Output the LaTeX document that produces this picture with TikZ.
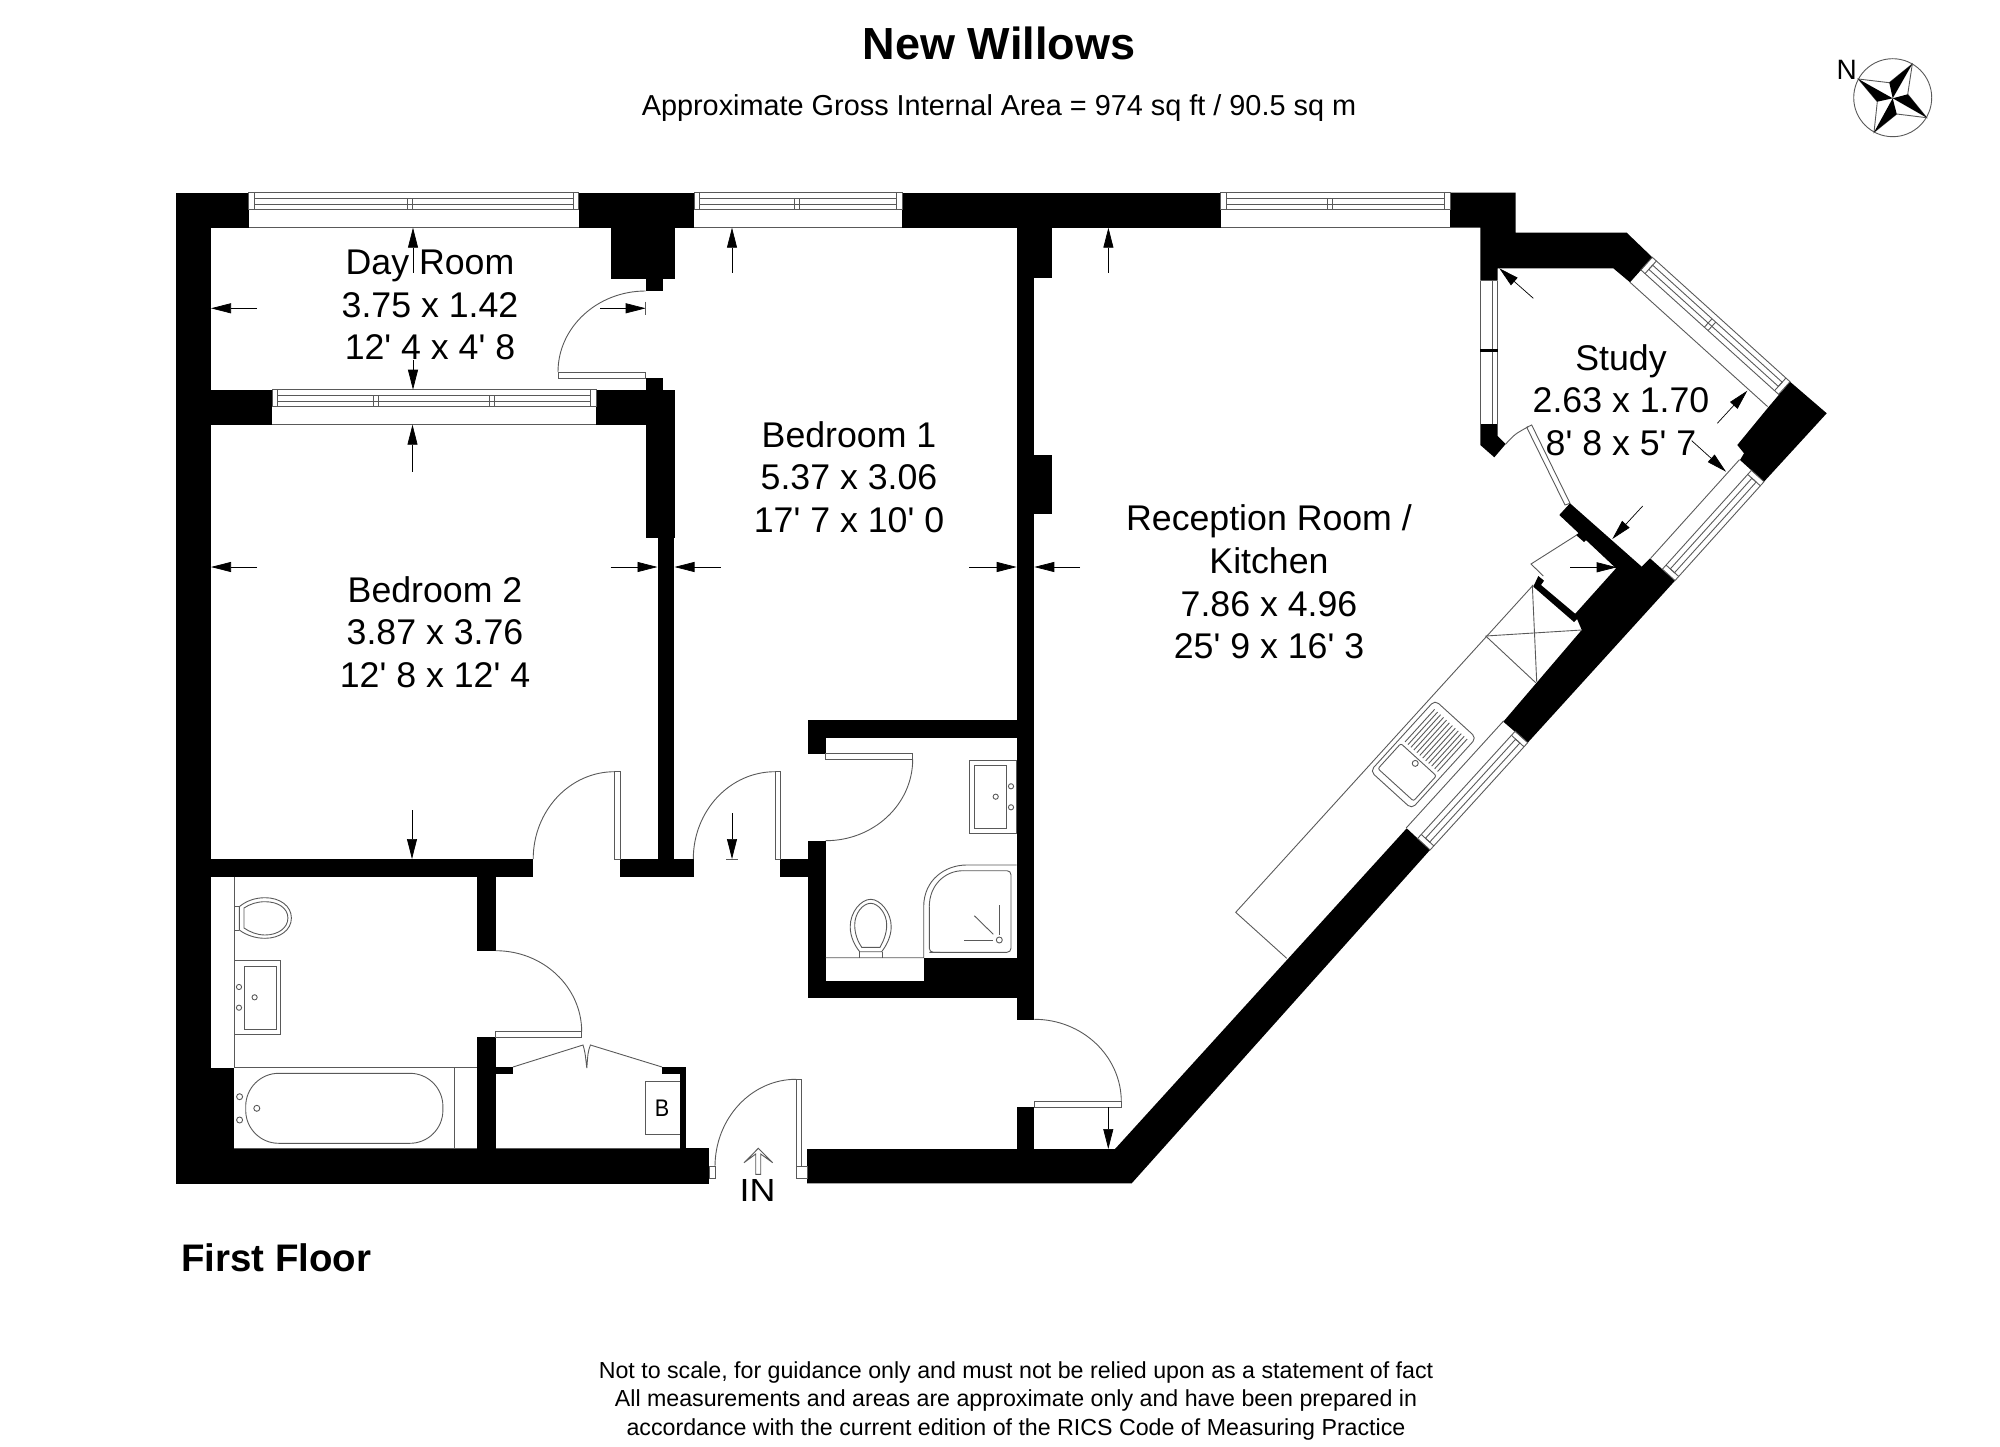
\documentclass[tikz,border=0pt]{standalone}
\usepackage{fontspec}
\setmainfont{Liberation Sans}
\usetikzlibrary{arrows.meta}

\newcommand{\ft}{\textquotesingle}
\tikzstyle{wall} = [fill=black]
\tikzstyle{fine} = [draw=black!65, line width=0.9pt]
\tikzstyle{dimline} = [draw=black, line width=0.7pt, -{Triangle[length=20pt,width=10pt]}]
\tikzstyle{roomlabel} = [align=center, inner sep=0pt, font=\fontsize{35.7}{42.7}\selectfont]

\newcommand{\winpane}[6]{
  \begin{scope}[shift={(#1,#2)},rotate=#3]
    \draw[fine] (0,0) rectangle (#4,17);
    \draw[fine] (5.5,5.6) rectangle (#4-5.5,11.3);
    \draw[fine] (5.5,0) -- (5.5,17) (#4-5.5,0) -- (#4-5.5,17);
    \draw[fine] (0,#5) -- (#4,#5);
    \foreach \m in {#6} {
      \draw[fine] (\m-2.5,5.6) -- (\m-2.5,17) (\m+2.5,5.6) -- (\m+2.5,17);
    }
  \end{scope}
}

\begin{document}
\begin{tikzpicture}[x=1pt, y=-1pt]
  \useasboundingbox (0,0) rectangle (2000,1447);

  % outer walls
  \fill[wall] (176,192.7) rectangle (248.6,227.7);
  \fill[wall] (176,192.7) rectangle (211,1184);
  \fill[wall] (176,1148.3) rectangle (709,1184);
  \fill[wall] (176,1067.7) rectangle (234,1148.3);
  \fill[wall] (578.6,192.7) rectangle (694,227.7);
  \fill[wall] (610.7,227.7) rectangle (675,279.3);
  \fill[wall] (645.7,279.3) rectangle (663,291);
  \fill[wall] (902,192.7) rectangle (1220.6,227.7);
  \fill[wall] (1450,192.7) -- (1515.7,192.7) -- (1515.7,232.7) -- (1626.7,232.7) -- (1652.3,257.3)
    -- (1630,282.3) -- (1613.3,268.3) -- (1497.7,268.3) -- (1497.7,280.7) -- (1480.3,280.7)
    -- (1480.3,227.7) -- (1450,227.7) -- cycle;
  \fill[wall] (1480.3,424) -- (1497.7,424) -- (1497.7,436) -- (1505.7,444) -- (1494.3,457.3)
    -- (1480.3,445) -- cycle;
  \fill[wall] (1768.3,407.3) -- (1790,381.7) -- (1826.7,413.3) -- (1764,481.7) -- (1740,460)
    -- (1744,453.3) -- (1737.3,445) -- cycle;
  \fill[wall] (1559.3,515) -- (1570,503.3) -- (1641.7,566.7) -- (1650,558.3) -- (1675,580.7)
    -- (1527.7,742.7) -- (1503.3,721.7) -- (1581.7,630) -- (1575,614) -- (1616,568.3) -- cycle;
  \fill[wall] (1576,535) -- (1583,530) -- (1590,536) -- (1584,542) -- cycle;
  \fill[wall] (1533.3,586.7) -- (1538.3,576) -- (1544,580.7) -- (1541,585) -- (1579,617)
    -- (1574,622) -- cycle;
  \fill[wall] (807,1149) -- (1115,1149) -- (1406.7,828.3) -- (1430,850) -- (1131.7,1183.3)
    -- (807,1183.3) -- cycle;

  % inner walls
  \fill[wall] (1016.7,227.7) rectangle (1034.3,1020);
  \fill[wall] (1034.3,227.7) rectangle (1052,278);
  \fill[wall] (1034.3,455) rectangle (1052,514);
  \fill[wall] (1016.7,1106.7) rectangle (1034.3,1149);
  \fill[wall] (211,389.7) rectangle (272,424.7);
  \fill[wall] (596.4,389.7) rectangle (675,424.7);
  \fill[wall] (645.7,378) rectangle (663,390);
  \fill[wall] (645.7,424.7) rectangle (675,538);
  \fill[wall] (657.5,538) rectangle (674,876.7);
  \fill[wall] (211,859) rectangle (533.2,876.7);
  \fill[wall] (620,859) rectangle (694,876.7);
  \fill[wall] (780.3,859) rectangle (807.7,876.7);
  \fill[wall] (477,876.7) rectangle (495.7,950.7);
  \fill[wall] (477,1036.7) rectangle (495.7,1148.3);
  \fill[wall] (495.7,1067) rectangle (513,1074);
  \fill[wall] (662,1067) rectangle (686,1074);
  \fill[wall] (680.4,1067) rectangle (686,1148.3);
  \fill[wall] (807.7,720) rectangle (1016.7,737.7);
  \fill[wall] (807.7,737.7) rectangle (825.7,754);
  \fill[wall] (807.7,840.7) rectangle (825.7,998.3);
  \fill[wall] (807.7,980.7) rectangle (1016.7,998.3);
  \fill[wall] (923.7,957.7) rectangle (1016.7,980.7);

  % windows
  \winpane{248.6}{192.7}{0}{330}{35}{161.5}
  \winpane{694}{192.7}{0}{208}{35}{103}
  \winpane{1220.6}{192.7}{0}{229.4}{35}{109.4}
  \winpane{272}{389.7}{0}{324.4}{35}{104,219.5}
  \winpane{1652.3}{257.3}{-42.1}{185.6}{33.5}{88}
  \winpane{1764}{481.7}{-132}{133}{33}{}
  \winpane{1527.7}{742.7}{-132.3}{145}{32.5}{}
  \draw[fine] (1480.3,280.7) -- (1480.3,424) (1492.3,280.7) -- (1492.3,424) (1497.7,280.7) -- (1497.7,424);
  \fill[wall] (1480.3,348.5) rectangle (1497.7,351.5);

  % doors
  \draw[fine] (645.7,291) arc[start angle=90, end angle=180, x radius=87.7pt, y radius=81pt];
  \draw[fine] (558,372.3) rectangle (645.7,378.3);
  \draw[fine] (533.2,859) arc[start angle=180, end angle=90, x radius=81.4pt, y radius=87.3pt];
  \draw[fine] (614.6,771.7) rectangle (620,859);
  \draw[fine] (693.3,859) arc[start angle=180, end angle=90, x radius=81.7pt, y radius=87.3pt];
  \draw[fine] (775,771.7) rectangle (780.3,859);
  \draw[fine] (912.7,759.3) arc[start angle=0, end angle=-90, x radius=87pt, y radius=81.4pt];
  \draw[fine] (825.7,753.3) rectangle (912.7,759.3);
  \draw[fine] (495.7,950.7) arc[start angle=90, end angle=0, x radius=86pt, y radius=81pt];
  \draw[fine] (495.7,1031.7) rectangle (581.8,1037.7);
  \draw[fine] (1034.3,1019.3) arc[start angle=90, end angle=0, x radius=87pt, y radius=82.4pt];
  \draw[fine] (1034.3,1101.7) rectangle (1121.3,1107);
  \draw[fine] (715,1166.7) arc[start angle=180, end angle=90, x radius=81pt, y radius=87.4pt];
  \draw[fine] (796,1079.3) rectangle (801.7,1166.7);
  \draw[fine] (796,1166.7) rectangle (807,1178);
  \draw[fine] (709,1166.7) rectangle (715,1178);
  \draw[fine] (1505.7,444) .. controls (1515,434) .. (1528.3,426.7);
  \draw[fine] (1526.7,427.3) -- (1531.7,425) -- (1570,503.3) -- (1565,505) -- cycle;
  \draw[fine] (1576.7,535) -- (1531,564) -- (1543.3,576);
  \draw[fine] (513,1067) -- (583,1045) .. controls (585,1052) .. (586.8,1068)
    .. controls (588,1052) .. (590.4,1045) -- (662,1067);

  % kitchen
  \draw[fine] (1533.3,585) -- (1235.7,912.3) -- (1286.7,958.3);
  \draw[fine] (1485.7,636) -- (1535.7,682.7);
  \draw[fine] (1485.7,636) -- (1581.7,630);
  \draw[fine] (1532.3,585) -- (1536.7,681.7);
  \begin{scope}[shift={(1423.3,754.5)},rotate=47.7]
    \draw[fine, rounded corners=5pt] (-48,-28) rectangle (48,28);
    \draw[fine, rounded corners=2pt] (-41,-24) rectangle (-7,24);
    \draw[fine] (-12,0) circle (3pt);
    \foreach \d in {-22,-18,...,22} {
      \draw[fine] (-3,\d) -- (41,\d);
    }
  \end{scope}

  % bathroom
  \draw[fine] (234,876.7) -- (234,1067.7) -- (477,1067.7);
  \draw[fine] (454.3,1067.7) -- (454.3,1148.3) (234,1148.3) -- (477,1148.3);
  \draw[fine] (239.3,906.7) .. controls (246,901) and (255,897.7) .. (265,897.7)
    .. controls (280,897.7) and (291.4,906) .. (291.4,918)
    .. controls (291.4,930) and (280,938.3) .. (265,938.3)
    .. controls (255,938.3) and (246,935) .. (239.3,930) -- cycle;
  \draw[fine] (244,908) .. controls (250,904) and (257,901.7) .. (265,901.7)
    .. controls (278,901.7) and (287.9,908) .. (287.9,918)
    .. controls (287.9,928) and (278,935) .. (265,935)
    .. controls (257,935) and (250,932) .. (244,928) -- cycle;
  \draw[fine] (234,906.7) -- (239.3,906.7) (234,930) -- (239.3,930);
  \draw[fine] (234,960.7) rectangle (280.7,1034);
  \draw[fine] (244.6,966) rectangle (276,1029);
  \draw[fine] (239,987) circle (2.6pt);
  \draw[fine] (239,1007.7) circle (2.6pt);
  \draw[fine] (254.6,997.3) circle (2.6pt);
  \draw[fine, rounded corners=33pt] (245.7,1073.3) rectangle (442.9,1143.3);
  \draw[fine] (239.6,1096.7) circle (3pt);
  \draw[fine] (239.6,1120) circle (3pt);
  \draw[fine] (256.8,1108.3) circle (3pt);

  % cupboard
  \draw[fine] (495.7,1148.3) -- (680.4,1148.3);
  \draw[fine] (645,1081.7) -- (680.4,1081.7) (645,1081.7) -- (645,1134) -- (680.4,1134);

  % en suite
  \draw[fine] (969.3,760.3) rectangle (1016.7,833.7);
  \draw[fine] (974.7,765.7) rectangle (1006.7,828.3);
  \draw[fine] (1011,786.3) circle (2.6pt);
  \draw[fine] (1011,807.3) circle (2.6pt);
  \draw[fine] (995.7,796.7) circle (2.6pt);
  \draw[fine] (825.7,957.7) -- (923.7,957.7) -- (923.7,906.7)
    .. controls (923.7,880) and (945,865) .. (966.7,865) -- (1016.7,865);
  \draw[fine, rounded corners=4pt] (929.3,952.3) -- (1011,952.3) -- (1011,870.7) -- (963,870.7);
  \draw[fine] (963,870.7) .. controls (945,870.7) and (929.3,885) .. (929.3,906.7);
  \draw[fine, rounded corners=4pt] (929.3,906.7) -- (929.3,952.3) -- (940,952.3);
  \draw[fine] (999.3,940) circle (3pt);
  \draw[fine] (999.3,905) -- (999.3,935);
  \draw[fine] (974.3,915.7) -- (993.3,934.3);
  \draw[fine] (964.3,940) -- (993.3,940);
  \draw[fine] (870.7,899.3) .. controls (880,899.3) and (891.2,912) .. (891.2,926.7)
    .. controls (891.2,937) and (886,946) .. (881.7,951.7) -- (859.7,951.7)
    .. controls (855,946) and (850.2,937) .. (850.2,926.7)
    .. controls (850.2,912) and (861,899.3) .. (870.7,899.3) -- cycle;
  \draw[fine] (870.7,903.3) .. controls (878,903.3) and (886.7,913) .. (886.7,925)
    .. controls (886.7,934) and (883,942) .. (880,947.3) -- (861.7,947.3)
    .. controls (858,942) and (854.7,934) .. (854.7,925)
    .. controls (854.7,913) and (863,903.3) .. (870.7,903.3) -- cycle;
  \draw[fine] (859.3,951.7) -- (859.3,957.7) (882.3,951.7) -- (882.3,957.7);

  % entrance arrow
  \draw[fine] (758.3,1148.3) -- (772.7,1162.7) -- (760.7,1154) -- (760.7,1174.3) -- (755.7,1174.3)
    -- (755.7,1154) -- (744,1162.7) -- cycle;

  % dimension arrows
  \draw[dimline] (413,273) -- (413,227.7);
  \draw[dimline] (413,360) -- (413,389.7);
  \draw[dimline] (257,308.3) -- (211,308.3);
  \draw[dimline] (600,308.3) -- (645.7,308.3);
  \draw[fine] (645.7,301.7) -- (645.7,315);
  \draw[dimline] (412.5,471.7) -- (412.5,424.7);
  \draw[dimline] (257,567) -- (211,567);
  \draw[dimline] (610.7,567) -- (657.5,567);
  \draw[dimline] (412,810) -- (412,859);
  \draw[dimline] (720.7,567) -- (674.5,567);
  \draw[dimline] (969.4,567) -- (1016.7,567);
  \draw[dimline] (732,273) -- (732,227.7);
  \draw[dimline] (732,813.3) -- (732,859);
  \draw[fine] (726,859) -- (738,859);
  \draw[dimline] (1108.4,273) -- (1108.4,227.7);
  \draw[dimline] (1108.3,1107) -- (1108.3,1149);
  \draw[dimline] (1080,567) -- (1034.3,567);
  \draw[dimline] (1570,567.3) -- (1616.7,567.3);
  \draw[dimline] (1533.3,298.3) -- (1499.3,268.3);
  \draw[dimline] (1717.3,423.3) -- (1747.3,390.7);
  \draw[dimline] (1691.7,440.7) -- (1726,471.7);
  \draw[dimline] (1642.7,506) -- (1612.3,539);

  % compass
  \draw[fine] (1892.7,97.7) circle (39pt);
  \draw[fine] (1858.3,79) -- (1889.3,82.7) -- (1912.3,64) -- (1907.7,94.3) -- (1926.7,117.7)
    -- (1896.7,114) -- (1874,132.3) -- (1877.3,101.7) -- cycle;
  \fill[wall] (1892.7,98.3) -- (1858.3,79) -- (1877.3,101.7) -- cycle;
  \fill[wall] (1892.7,98.3) -- (1912.3,64) -- (1889.3,82.7) -- cycle;
  \fill[wall] (1892.7,98.3) -- (1926.7,117.7) -- (1907.7,94.3) -- cycle;
  \fill[wall] (1892.7,98.3) -- (1874,132.3) -- (1896.7,114) -- cycle;
  \node[inner sep=0pt, font=\fontsize{28}{28}\selectfont] (north) at (1846.7,70) {N};

  % labels
  \node[inner sep=0pt, font=\fontsize{45}{45}\selectfont\bfseries] (title) at (999,43.5) {New Willows};
  \node[inner sep=0pt, font=\fontsize{28.85}{29}\selectfont] (area) at (999,108.5) {Approximate Gross Internal Area = 974 sq ft / 90.5 sq m};
  \node[roomlabel] (dayroom) at (430,305) {Day Room\\3.75 x 1.42\\12\ft{} 4 x 4\ft{} 8};
  \node[roomlabel] (bedroomb) at (435,632) {Bedroom 2\\3.87 x 3.76\\12\ft{} 8 x 12\ft{} 4};
  \node[roomlabel] (bedrooma) at (849,477) {Bedroom 1\\5.37 x 3.06\\17\ft{} 7 x 10\ft{} 0};
  \node[roomlabel] (reception) at (1269,582) {Reception Room /\\Kitchen\\7.86 x 4.96\\25\ft{} 9 x 16\ft{} 3};
  \node[roomlabel] (study) at (1621,400) {Study\\2.63 x 1.70\\8\ft{} 8 x 5\ft{} 7};
  \node[inner sep=0pt, xscale=0.9, font=\fontsize{24}{24}\selectfont] (boiler) at (662,1108) {B};
  \node[inner sep=0pt, xscale=1.12, font=\fontsize{32}{32}\selectfont] (entry) at (757.5,1190) {IN};
  \node[inner sep=0pt, anchor=west, font=\fontsize{38.4}{38.4}\selectfont\bfseries] (floor) at (181,1258) {First Floor};
  \node[align=center, inner sep=0pt, font=\fontsize{23.2}{28.5}\selectfont] (note) at (1016,1400.5) {Not to scale, for guidance only and must not be relied upon as a statement of fact\\All measurements and areas are approximate only and have been prepared in\\accordance with the current edition of the RICS Code of Measuring Practice};
\end{tikzpicture}
\end{document}
